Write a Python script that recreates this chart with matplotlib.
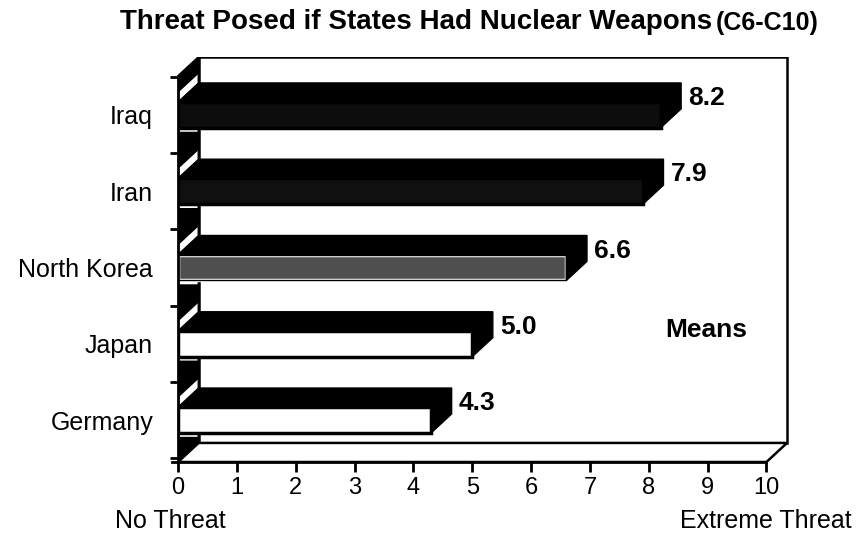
import matplotlib.pyplot as plt
from matplotlib.patches import Polygon

plt.rcParams['font.family'] = ['Liberation Sans', 'DejaVu Sans']

countries = ['Iraq', 'Iran', 'North Korea', 'Japan', 'Germany']
means = [8.2, 7.9, 6.6, 5.0, 4.3]
front_colors = ['#0d0d0d', '#101010', '#4f4f4f', 'white', 'white']
front_edges = ['black', 'black', 'white', 'black', 'black']
ypos = [4, 3, 2, 1, 0]
xticks = list(range(0, 11))

dx, dy = 0.35, 0.25     # depth offset of the fake 3d
h = 0.34                # height of bar front face
floor_y, top_y = -0.55, 4.76

fig = plt.figure(figsize=(8.57, 5.35), dpi=100)
ax = fig.add_axes([178 / 857, 73 / 535, 612 / 857, 405 / 535])
ax.set_xlim(0, 10.4)
ax.set_ylim(floor_y, top_y)

# walls and floor
back = Polygon([(dx, floor_y + dy), (10 + dx, floor_y + dy), (10 + dx, top_y), (dx, top_y)],
               closed=True, facecolor='white', edgecolor='black', lw=1.8, zorder=1)
left = Polygon([(0, floor_y), (dx, floor_y + dy), (dx, top_y), (0, top_y - dy)],
               closed=True, facecolor='white', edgecolor='black', lw=1.5, zorder=1)
floor = Polygon([(0, floor_y), (10, floor_y), (10 + dx, floor_y + dy), (dx, floor_y + dy)],
                closed=True, facecolor='white', edgecolor='black', lw=1.8, zorder=1)
for p in (back, left, floor):
    ax.add_patch(p)

# dark bands on the left wall
for yc in [-1, 0, 1, 2, 3, 4]:
    band = Polygon([(0, yc + 0.29), (dx, yc + 0.29 + dy), (dx, yc + 0.78), (0, yc + 0.78)],
                   closed=True, facecolor='black', edgecolor='none', zorder=2)
    ax.add_patch(band)
    band.set_clip_path(left)

# bars
ax.barh(ypos, means, height=h, color=front_colors, edgecolor=front_edges, lw=2.5, zorder=3)
ax.barh(ypos, means, height=h, fill=False, edgecolor='black', lw=1, zorder=4)
for yc, v in zip(ypos, means):
    t = yc + h / 2
    b = yc - h / 2
    ax.add_patch(Polygon([(0, t), (v, t), (v + dx, t + dy), (dx, t + dy)],
                         closed=True, facecolor='black', edgecolor='black', zorder=3))
    ax.add_patch(Polygon([(v, b), (v + dx, b + dy), (v + dx, t + dy), (v, t)],
                         closed=True, facecolor='black', edgecolor='black', zorder=3))
    ax.text(v + dx + 0.12, yc + 0.22, f'{v:.1f}', fontsize=19, fontweight='bold',
            ha='left', va='center')

ax.text(8.28, 1.18, 'Means', fontsize=19, fontweight='bold', ha='left', va='center')

# axes
for s in ['top', 'right']:
    ax.spines[s].set_visible(False)
ax.spines['bottom'].set_bounds(-0.1, 10)
ax.spines['bottom'].set_linewidth(2)
ax.spines['bottom'].set_zorder(5)
ax.spines['left'].set_bounds(floor_y, top_y - dy)
ax.spines['left'].set_linewidth(2)
ax.spines['left'].set_zorder(5)

ax.set_xticks(xticks)
ax.set_xticklabels([str(x) for x in xticks], fontsize=17)
ax.tick_params(axis='x', direction='out', length=7, width=2, pad=4)

ax.set_yticks(ypos)
ax.set_yticklabels(countries, fontsize=18)
ax.tick_params(axis='y', which='major', length=0, pad=18)
ax.set_yticks([-0.5, 0.5, 1.5, 2.5, 3.5, 4.5], minor=True)
ax.tick_params(axis='y', which='minor', direction='out', length=6, width=2)

fig.text(115 / 857, 1 - 521 / 535, 'No Threat', fontsize=18, ha='left', va='center')
fig.text(852 / 857, 1 - 521 / 535, 'Extreme Threat', fontsize=18, ha='right', va='center')

fig.text(712 / 857, 1 - 22 / 535, 'Threat Posed if States Had Nuclear Weapons', fontsize=20,
         fontweight='bold', ha='right', va='center')
fig.text(716 / 857, 1 - 23 / 535, '(C6-C10)', fontsize=18, fontweight='bold',
         ha='left', va='center')

plt.savefig('out.png', dpi=100)
